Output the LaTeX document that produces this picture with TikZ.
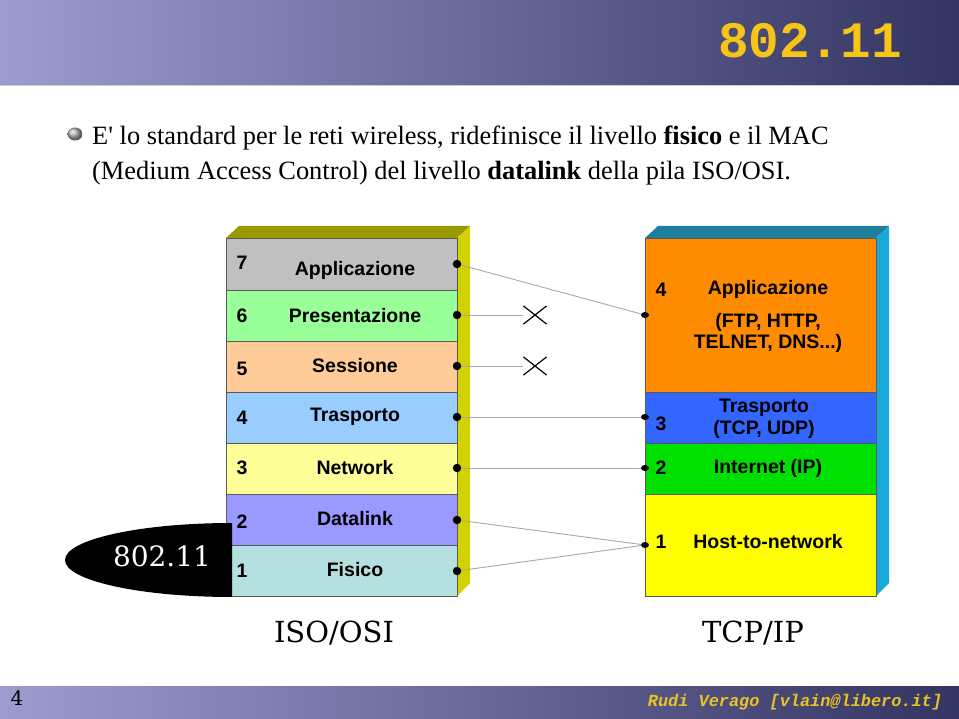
\documentclass[tikz,border=0pt]{standalone}
\usepackage{fontspec}
\setmainfont{Liberation Serif}
\newfontfamily\plainserif{Liberation Serif}
\newfontfamily\lsans{Liberation Sans}
\newfontfamily\dvserif{DejaVu Serif}
\newfontfamily\lmono{Liberation Mono}
\usetikzlibrary{shapes.misc,shapes.geometric}
\definecolor{bannerL}{HTML}{9C9CD0}
\definecolor{bannerR}{HTML}{343462}
\definecolor{titleY}{HTML}{F7C515}
\definecolor{footY}{HTML}{E9C225}
\definecolor{cSeven}{HTML}{C0C0C0}
\definecolor{cSix}{HTML}{99FF99}
\definecolor{cFive}{HTML}{FFCC99}
\definecolor{cFour}{HTML}{99CCFF}
\definecolor{cThree}{HTML}{FFFF99}
\definecolor{cTwo}{HTML}{9999FF}
\definecolor{cOne}{HTML}{B5E0E0}
\definecolor{oliveTop}{HTML}{999900}
\definecolor{oliveSide}{HTML}{D2D200}
\definecolor{tApp}{HTML}{FF8C00}
\definecolor{tTra}{HTML}{3366FF}
\definecolor{tInt}{HTML}{00E000}
\definecolor{tHost}{HTML}{FFFF00}
\definecolor{tealTop}{HTML}{1E7E9C}
\definecolor{tealSide}{HTML}{16A9DA}
\definecolor{conn}{HTML}{A8A8A8}
\tikzset{
  layer/.style={draw=black!65, line width=0.8pt, minimum width=231pt, inner sep=0pt, anchor=north west},
  lbl/.style={font=\lsans\bfseries\fontsize{19.5}{21.5}\selectfont, text=black, inner sep=0pt, align=center},
  ldot/.style={circle, fill=black, inner sep=0pt, minimum size=8.5pt},
  rdot/.style={ellipse, fill=black, inner sep=0pt, minimum width=8pt, minimum height=6pt},
  link/.style={draw=conn, line width=0.9pt},
  xmark/.style={cross out, draw=black, line width=1.2pt, minimum width=22pt, minimum height=17pt, inner sep=0pt},
  bigtxt/.style={font=\dvserif\fontsize{29}{32}\selectfont, inner sep=0pt},
  body/.style={font=\fontsize{26.4}{30}\selectfont, inner sep=0pt, anchor=base west}
}
\begin{document}
\begin{tikzpicture}[x=1pt,y=-1pt]
\useasboundingbox (0,0) rectangle (959,719);
\fill[white] (0,0) rectangle (959,719);
% banner
\shade[left color=bannerL, right color=bannerR] (0,0) rectangle (959,85);
\draw[color=black!20, line width=1.5pt] (0,85.5) -- (959,85.5);
\node[font=\lmono\bfseries\fontsize{51}{51}\selectfont, text=titleY, inner sep=0pt] (title) at (810,41) {802.11};
% footer
\shade[left color=bannerL, right color=bannerR] (0,686) rectangle (959,719);
\node[font=\dvserif\fontsize{20}{20}\selectfont, inner sep=0pt] (pnum) at (17,698) {4};
\node[font=\lmono\bfseries\itshape\fontsize{16.9}{17}\selectfont, text=footY, inner sep=0pt] (author) at (795,702) {Rudi Verago [vlain@libero.it]};
% bullet text
\shade[ball color=gray!60] (75,134) ellipse [x radius=7.5pt, y radius=6.5pt];
\node[body] (line1) at (92,145) {E{\plainserif '} lo standard per le reti wireless, ridefinisce il livello \textbf{fisico} e il MAC};
\node[body] (line2) at (92,180) {(Medium Access Control) del livello \textbf{datalink} della pila ISO/OSI.};
% left stack 3D faces
\fill[oliveTop] (226,238) -- (239,226) -- (470,226) -- (457,238) -- cycle;
\fill[oliveSide] (457,238) -- (470,226) -- (470,583) -- (457,596) -- cycle;
\node[layer, fill=cSeven, minimum height=52pt] (L7) at (226,238) {};
\node[layer, fill=cSix, minimum height=51pt] (L6) at (226,290) {};
\node[layer, fill=cFive, minimum height=51pt] (L5) at (226,341) {};
\node[layer, fill=cFour, minimum height=51pt] (L4) at (226,392) {};
\node[layer, fill=cThree, minimum height=51pt] (L3) at (226,443) {};
\node[layer, fill=cTwo, minimum height=51pt] (L2) at (226,494) {};
\node[layer, fill=cOne, minimum height=51pt] (L1) at (226,545) {};
% right stack 3D faces
\fill[tealTop] (645,238) -- (658,226) -- (889,226) -- (876,238) -- cycle;
\fill[tealSide] (876,238) -- (889,226) -- (889,583) -- (876,596) -- cycle;
\node[layer, fill=tApp, minimum height=154pt] (T4) at (645,238) {};
\node[layer, fill=tTra, minimum height=51pt] (T3) at (645,392) {};
\node[layer, fill=tInt, minimum height=51pt] (T2) at (645,443) {};
\node[layer, fill=tHost, minimum height=102pt] (T1) at (645,494) {};
% 802.11 half ellipse
\fill[black] (232,523) arc[start angle=-90, end angle=-270, x radius=167, y radius=37] -- cycle;
\node[bigtxt, text=white, font=\dvserif\fontsize{28}{30}\selectfont] (wifi) at (162,556) {802.11};
% left labels
\node[lbl] (n7) at (242,263) {7};
\node[lbl] (a7) at (355,270) {Applicazione};
\node[lbl] (n6) at (242,316) {6};
\node[lbl] (a6) at (355,316) {Presentazione};
\node[lbl] (n5) at (242,369) {5};
\node[lbl] (a5) at (355,366) {Sessione};
\node[lbl] (n4) at (242,418) {4};
\node[lbl] (a4) at (355,417) {Trasporto};
\node[lbl] (n3) at (242,468) {3};
\node[lbl] (a3) at (355,468) {Network};
\node[lbl] (n2) at (242,522) {2};
\node[lbl] (a2) at (355,519) {Datalink};
\node[lbl] (n1) at (242,571) {1};
\node[lbl] (a1) at (355,570) {Fisico};
% right labels
\node[lbl] (m4) at (661,290) {4};
\node[lbl] (b4) at (768,289) {Applicazione};
\node[lbl] (b4b) at (768,333) {(FTP, HTTP,\\TELNET, DNS...)};
\node[lbl] (m3) at (661,424) {3};
\node[lbl] (b3) at (764,419) {Trasporto\\(TCP, UDP)};
\node[lbl] (m2) at (661,468) {2};
\node[lbl] (b2) at (768,468) {Internet (IP)};
\node[lbl] (m1) at (661,542) {1};
\node[lbl] (b1) at (768,542) {Host-to-network};
% crosses
\node[xmark] (x6) at (535,315) {};
\node[xmark] (x5) at (535,366) {};
% dots
\node[ldot] (d7) at (457,264) {};
\node[ldot] (d6) at (457,315) {};
\node[ldot] (d5) at (457,366) {};
\node[ldot] (d4) at (457,417) {};
\node[ldot] (d3) at (457,468) {};
\node[ldot] (d2) at (457,520) {};
\node[ldot] (d1) at (457,571) {};
\node[rdot] (r4) at (645,315) {};
\node[rdot] (r3) at (645,417) {};
\node[rdot] (r2) at (645,468) {};
\node[rdot] (r1) at (645,545) {};
% connectors
\path[link] (d7) -- (r4);
\path[link] (d6) -- (x6.west);
\path[link] (d5) -- (x5.west);
\path[link] (d4) -- (r3);
\path[link] (d3) -- (r2);
\path[link] (d2) -- (r1);
\path[link] (d1) -- (r1);
% bottom captions
\node[bigtxt] (iso) at (334,633) {ISO/OSI};
\node[bigtxt] (tcp) at (753,633) {TCP/IP};
\end{tikzpicture}
\end{document}
